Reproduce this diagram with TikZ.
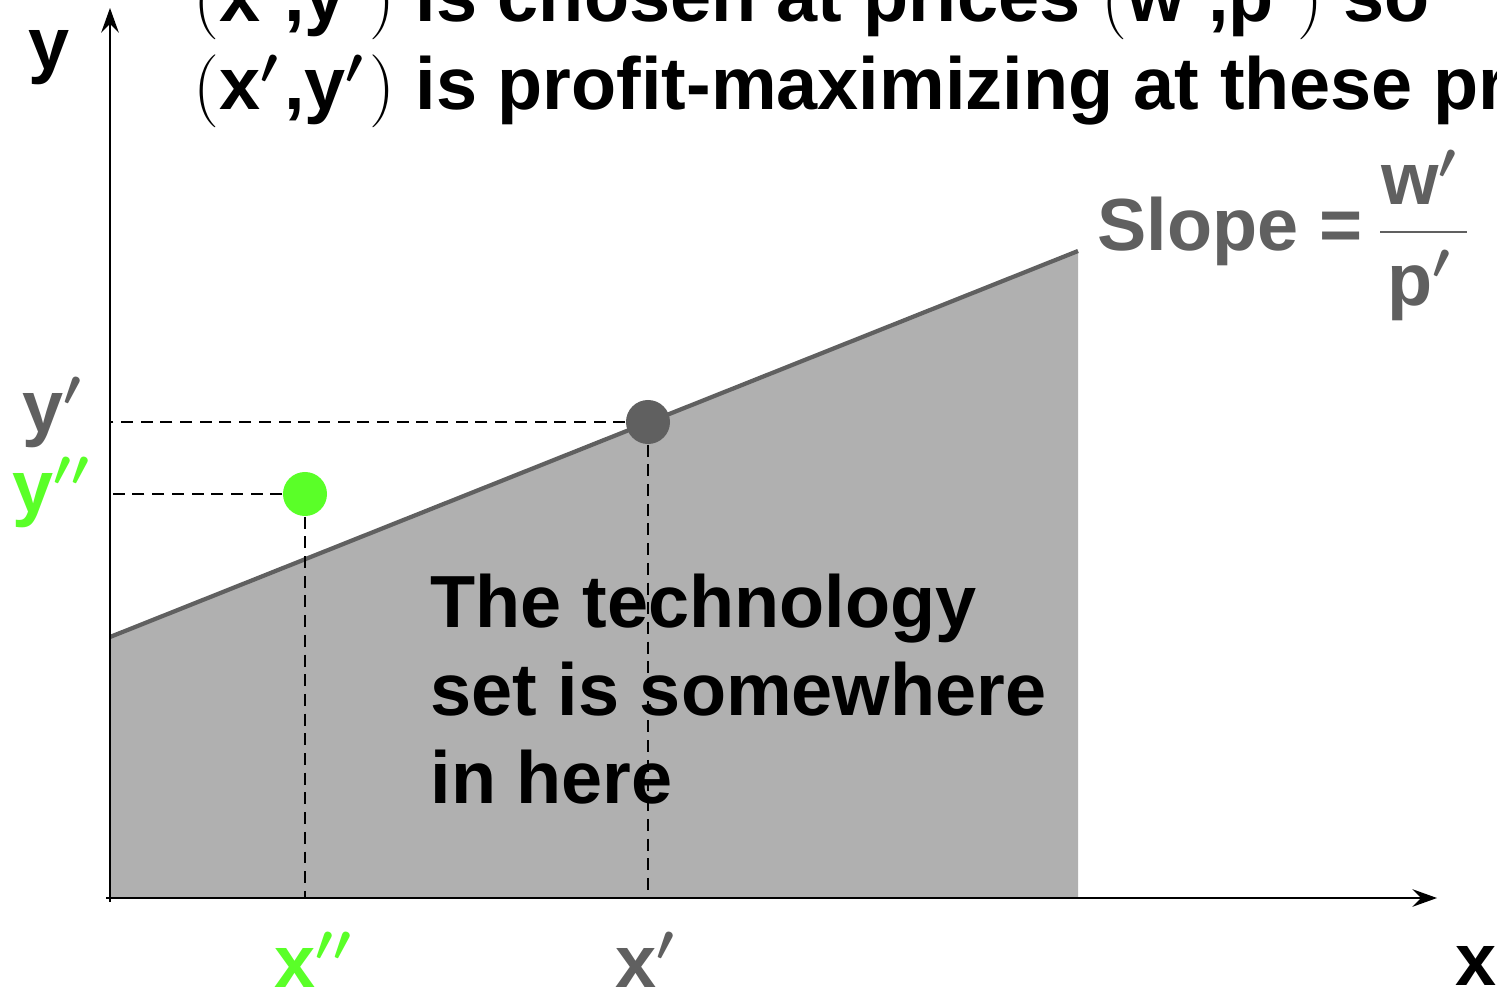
\documentclass[tikz,border=0pt]{standalone}
\usepackage{fontspec}
\setmainfont{Liberation Sans}
\usetikzlibrary{arrows.meta,positioning}
\definecolor{darkgrey}{HTML}{606060}
\definecolor{techgrey}{HTML}{B0B0B0}
\definecolor{pointgreen}{HTML}{5AFF28}
\newcommand{\prm}{{\boldmath$'$}\kern0.06em}
\newcommand{\dprm}{{\boldmath$''$}\kern0.06em}

\begin{document}
\begin{tikzpicture}[
        x=0.01cm, y=-0.01cm,
        axis/.style={-{Stealth[length=7pt, width=5pt, inset=2.5pt]}, line width=0.6pt},
        guide/.style={line width=0.6pt, dash pattern=on 3.4pt off 2.2pt},
        frontier/.style={draw=darkgrey, line width=1.2pt},
        point/.style={circle, fill=#1, minimum size=0.44cm, inner sep=0pt},
        lbl/.style={font=\fontsize{21}{25}\selectfont\bfseries, inner sep=0pt, anchor=base west}
    ]
        \useasboundingbox (0,0) rectangle (1497,991);
        \clip (0,0) rectangle (1497,991);

        % Achsen
        \coordinate (o) at (110,898);
        \coordinate (xend) at (1437,898);
        \coordinate (yend) at (110,8);
        \coordinate (fa) at (110,637);
        \coordinate (fb) at (1078,251);

        % Technologiemenge
        \fill[techgrey] (o) -- (fa) -- (fb) -- (fb |- o) -- cycle;
        \draw[frontier] (fa) -- (fb);

        \draw[axis] ([xshift=-1pt]o) -- (xend);
        \draw[axis] ([yshift=-1pt]o) -- (yend);

        % Punkte
        \node[point=darkgrey] (xp) at (648,422) {};
        \node[point=pointgreen] (xpp) at (305,494) {};

        \draw[guide] (xp) -- (xp |- o);
        \draw[guide] (xp) -- (o |- xp);
        \draw[guide] (xpp) -- (xpp |- o);
        \draw[guide] (xpp) -- (o |- xpp);

        % Beschriftungen
        \node[lbl] (ylab) at (28,70) {y};
        \node[lbl] (xlab) at (1455,985) {x};
        \node[lbl, darkgrey] (yplab) at (22,432) {y\prm};
        \node[lbl, pointgreen] (ypplab) at (12,512) {y\dprm};
        \node[lbl, darkgrey] (xplab) at (615,987) {x\prm};
        \node[lbl, pointgreen] (xpplab) at (274,987) {x\dprm};

        \node[lbl, darkgrey] (slope) at (1097,250) {Slope =};
        \node[lbl, darkgrey, anchor=base] (num) at (1422,205) {w\prm};
        \node[lbl, darkgrey, anchor=base] (den) at (1422,305) {p\prm};
        \draw[darkgrey, line width=0.6pt] (1380,232) -- (1467,232);

        \node[lbl, align=left] (tech) at (430,803) {The technology\\set is somewhere\\in here};

        \node[lbl] (head1) at (193,22) {$($x\prm,y\prm$)$ is chosen at prices $($w\prm,p\prm$)$ so};
        \node[lbl] (head2) at (193,110) {$($x\prm,y\prm$)$ is profit-maximizing at these prices};
    \end{tikzpicture}
\end{document}
